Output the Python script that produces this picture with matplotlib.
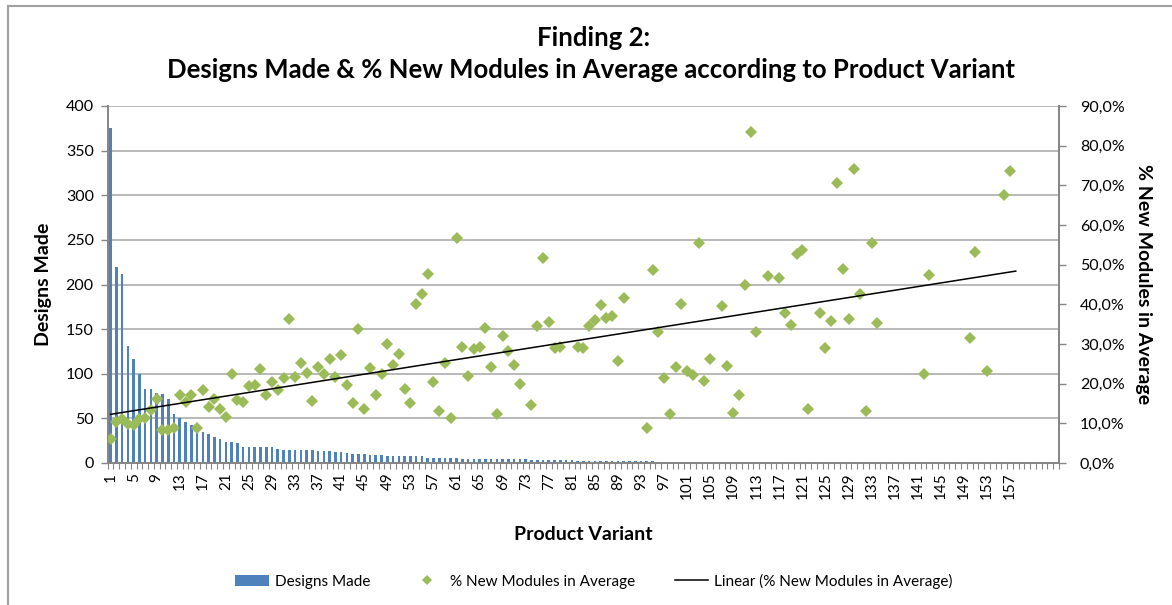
import matplotlib.pyplot as plt
from matplotlib.ticker import FuncFormatter
from matplotlib.lines import Line2D
import numpy as np

plt.rcParams['font.family'] = ['Lato', 'DejaVu Sans']

# designs made per product variant (variants 1..116)
designs_made = [375, 220, 212, 131, 117, 100, 83, 83, 78, 77, 72, 55, 50, 46, 43, 40,
                35, 33, 29, 27, 23, 23, 22,
                18, 18, 18, 18, 18, 18, 16,
                15, 15, 15, 15, 15, 15, 13, 13, 13, 12, 12, 11, 10, 10, 10,
                9, 9, 9, 8, 8, 8, 8, 8, 8, 8,
                6, 6, 6, 6, 6, 6, 5, 5, 5, 5, 5, 5, 5, 4, 4, 4, 4, 4,
                3, 3, 3, 3, 3, 3, 3, 3, 2, 2, 2, 2,
                2, 2, 2, 2, 2, 2, 2, 2, 2, 2,
                1, 1, 1, 1, 1, 1, 1, 1, 1, 1, 1, 1, 1, 1, 1, 1, 1, 1, 1, 1, 1]

# % new modules in average per product variant (variants 1..158), None = no value
pct_new_modules = [
    6.1, 10.3, 11.0, 9.9, 9.5, 11.2, 11.4, 13.3, 16.1, 8.2,
    8.2, 8.8, 17.2, 15.4, 17.1, 8.8, 18.3, 14.1, 16.1, 13.7,
    11.6, 22.5, 15.8, 15.4, 19.3, 19.6, 23.8, 17.1, 20.3, 18.3,
    21.4, 36.2, 21.7, 25.1, 22.8, 15.6, 24.2, 22.5, 26.3, 21.7,
    27.2, 19.6, 15.2, 33.9, 13.5, 24.0, 17.1, 22.5, 29.9, 24.6,
    27.6, 18.6, 15.2, 40.0, 42.6, 47.6, 20.3, 13.1, 25.2, 11.4,
    56.6, 29.3, 22.0, 28.7, 29.3, 34.1, 24.2, 12.4, 32.0, 28.3,
    24.8, 20.0, None, 14.7, 34.6, 51.7, 35.6, 29.1, 29.3, None,
    None, 29.3, 29.1, 34.6, 36.0, 39.8, 36.6, 37.0, 25.7, 41.5,
    None, None, None, 8.7, 48.6, 32.9, 21.5, 12.4, 24.1, 40.2,
    23.1, 22.1, 55.5, 20.6, 26.3, None, 39.5, 24.4, 12.6, 17.2,
    44.8, 83.4, 32.9, None, 47.1, None, 46.7, 37.7, 34.7, 52.8,
    53.7, 13.7, None, 37.8, 29.1, 35.7, 70.7, 49.0, 36.4, 74.1,
    42.6, 13.1, 55.5, 35.3, None, None, None, None, None, None,
    None, 22.5, 47.5, None, None, None, None, None, None, 31.6,
    53.1, None, 23.1, None, None, 67.5, 73.6, None]

variant_count = 165
label_variants = list(range(1, 158, 4))

bar_color = '#4F81BD'
marker_color = '#9BBB59'
grid_color = '#A6A6A6'
axis_color = '#868686'

W, H = 1172, 605
fig = plt.figure(figsize=(W / 100, H / 100), dpi=100)
ax = fig.add_axes([107.7 / W, 1 - 463 / H, 951.3 / W, 357 / H])

x_bar = np.arange(1, len(designs_made) + 1)
ax.bar(x_bar, designs_made, width=0.45, color=bar_color, label='Designs Made', zorder=2)
ax.set_xlim(0.5, variant_count + 0.5)
ax.set_ylim(0, 400)
ax.set_yticks(range(0, 401, 50))
ax.grid(axis='y', color=grid_color, linewidth=1.1, zorder=0)
ax.set_axisbelow(True)

ax.set_xticks(label_variants)
ax.set_xticklabels([str(v) for v in label_variants], rotation=90, fontsize=11)
ax.set_xticks(np.arange(0.5, variant_count + 1, 1), minor=True)
ax.tick_params(axis='x', which='major', length=0, pad=7)
ax.tick_params(axis='x', which='minor', length=4, color=axis_color, width=0.8, direction='out')
ax.tick_params(axis='y', length=5, color=axis_color, width=1, labelsize=11.5, pad=5)

ax2 = ax.twinx()
pct = np.array([np.nan if v is None else v for v in pct_new_modules], dtype=float)
x_pct = np.arange(1, len(pct) + 1)
ok = ~np.isnan(pct)
ax2.plot(x_pct[ok], pct[ok], linestyle='none', marker='D', markersize=6.4,
         color=marker_color, markeredgewidth=0, label='% New Modules in Average', zorder=3)
coef = np.polyfit(x_pct[ok], pct[ok], 1)
x_trend = np.array([1, len(pct)])
ax2.plot(x_trend, np.polyval(coef, x_trend), color='black', linewidth=1.1,
         label='Linear (% New Modules in Average)', zorder=4)
ax2.set_ylim(0, 90)
ax2.set_yticks(range(0, 91, 10))
ax2.yaxis.set_major_formatter(FuncFormatter(lambda v, _: f'{v:.1f}%'.replace('.', ',')))
ax2.tick_params(axis='y', length=5, color=axis_color, width=1, labelsize=11.5, pad=10)

for a in (ax, ax2):
    for side in ('left', 'right', 'bottom'):
        a.spines[side].set_color(axis_color)
        a.spines[side].set_linewidth(1.3)
    a.spines['top'].set_visible(False)

ax.set_ylabel('Designs Made', fontsize=14, fontweight='bold', labelpad=10)
ax2.set_ylabel('% New Modules in Average', fontsize=14, fontweight='bold',
               rotation=270, labelpad=20)
ax.set_xlabel('Product Variant', fontsize=14, fontweight='bold', labelpad=19)

fig.text(594 / W, 1 - 38 / H, 'Finding 2:', ha='center', va='center',
         fontsize=18.5, fontweight='bold')
fig.text(591 / W, 1 - 70 / H,
         'Designs Made & % New Modules in Average according to Product Variant',
         ha='center', va='center', fontsize=18.5, fontweight='bold')

h1, l1 = ax.get_legend_handles_labels()
h2, l2 = ax2.get_legend_handles_labels()
fig.legend(h1 + h2, l1 + l2, loc='center', bbox_to_anchor=(594 / W, 1 - 581 / H),
           ncol=3, frameon=False, fontsize=11, handlelength=2.2, handletextpad=0.4,
           columnspacing=2.6, markerscale=0.8)

# chart frame
fig.add_artist(Line2D([7.5 / W, 7.5 / W], [0, 1 - 5.5 / H], color='#A0A0A0', linewidth=1.5))
fig.add_artist(Line2D([7.5 / W, 1], [1 - 5.5 / H, 1 - 5.5 / H], color='#A0A0A0', linewidth=1.5))

fig.savefig('out.png', dpi=100)
